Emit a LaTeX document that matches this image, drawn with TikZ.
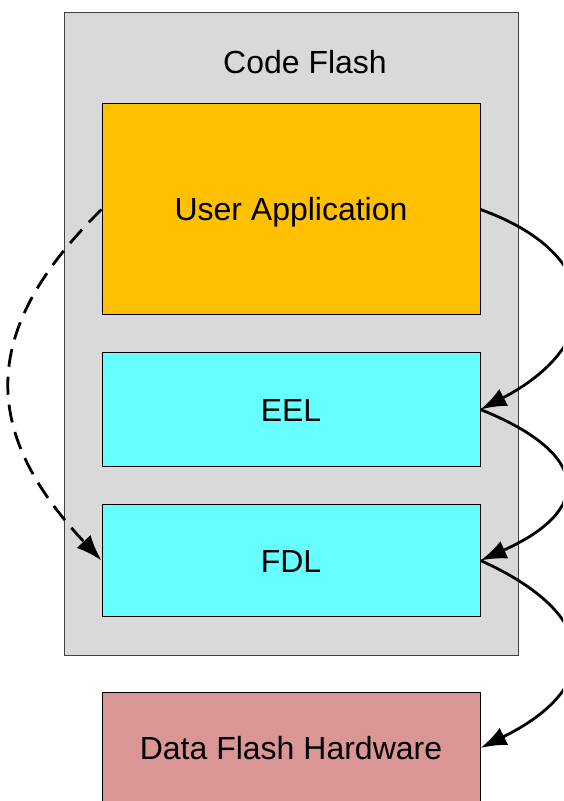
\documentclass[tikz,border=0pt]{standalone}
\usepackage{fontspec}
\setmainfont{Liberation Sans}
\usetikzlibrary{arrows.meta}
\tikzset{>={Latex[length=13pt,width=9.5pt]}}
\tikzset{
  memory/.style={draw=black!75, line width=0.5pt, minimum width=227pt, inner sep=0pt},
  block/.style={draw=black, line width=0.5pt, minimum width=189pt, inner sep=0pt, text height=11.5pt, text depth=0pt},
  call/.style={->, line width=1.4pt},
  direct/.style={->, line width=1.4pt, dash pattern=on 9pt off 5pt}
}

\begin{document}
\begin{tikzpicture}[x=0.5pt,y=-0.5pt]
                \useasboundingbox (0,0) rectangle (563,801);
                \clip (0,0) rectangle (563,801);
                \fontsize{16}{19}\selectfont

                % Draw the code flash area and its title
                \node[memory, fill={rgb,255:red,217;green,217;blue,217}, minimum height=321pt] (code) at (291,334) {};
                \node (title) at (305,62) {Code Flash};

                % Draw the software layers inside the code flash
                \node[block, fill={rgb,255:red,255;green,192;blue,0}, minimum height=105.5pt] (app) at (291,209.5) {User Application};
                \node[block, fill={rgb,255:red,102;green,255;blue,255}, minimum height=56.5pt] (eel) at (291,409.5) {EEL};
                \node[block, fill={rgb,255:red,102;green,255;blue,255}, minimum height=56pt] (fdl) at (291,560.5) {FDL};

                % Draw the hardware block below
                \node[block, fill={rgb,255:red,217;green,150;blue,148}, minimum height=56pt] (hw) at (291,748) {Data Flash Hardware};

                % Draw the calls down the chain on the right
                \draw[call] (app.east) .. controls +(125,45) and +(125,-65) .. (eel.east);
                \draw[call] (eel.east) .. controls +(112,45) and +(112,-50) .. (fdl.east);
                \draw[call] (fdl.east) .. controls +(122,55) and +(122,-60) .. (hw.east);

                % Draw the direct call on the left
                \draw[direct] (app.west) .. controls +(-122,120) and +(-122,-130) .. (fdl.west);
\end{tikzpicture}
\end{document}
